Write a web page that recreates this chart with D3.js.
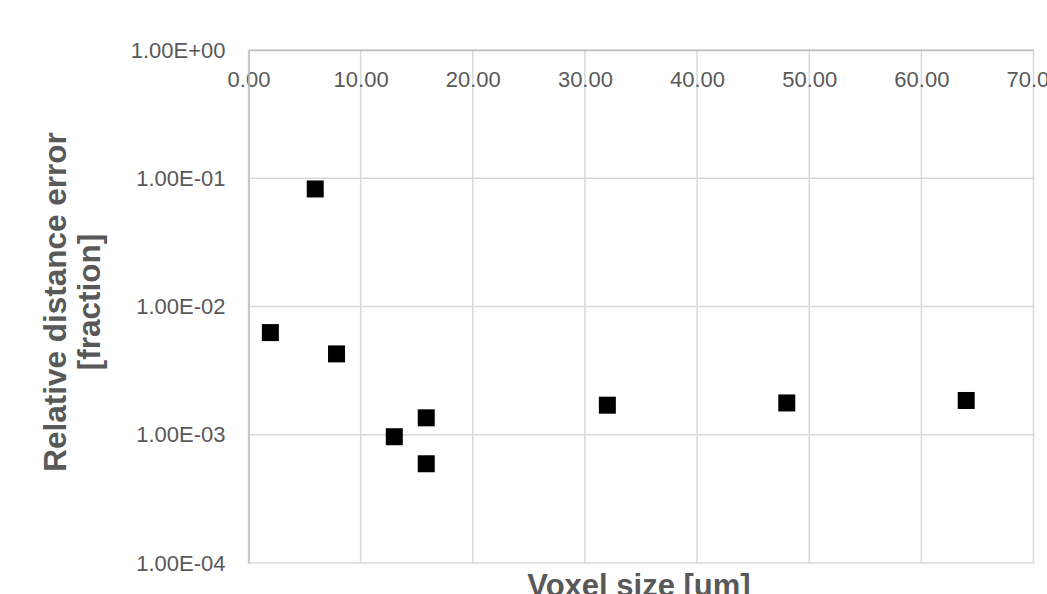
<!DOCTYPE html>
<html>
<head>
<meta charset="utf-8">
<script src="https://cdn.jsdelivr.net/npm/d3@7"></script>
<style>
  html, body { margin: 0; padding: 0; background: #ffffff; }
  svg { display: block; font-family: "Liberation Sans", Arial, sans-serif; }
</style>
</head>
<body>
<svg id="chart" width="1047" height="594"></svg>
<script>
// ---- data ----
const voxelSize = [1.95, 5.95, 7.85, 13.0, 15.85, 15.85, 32.0, 48.0, 64.0];
const relError  = [0.00626, 0.0825, 0.00427, 0.000965, 0.001355, 0.000594, 0.0017, 0.00177, 0.00185];

const xTickValues = [0, 10, 20, 30, 40, 50, 60, 70];
const xTickLabels = ["0.00", "10.00", "20.00", "30.00", "40.00", "50.00", "60.00", "70.00"];
const yTickValues = [1e-4, 1e-3, 1e-2, 1e-1, 1];
const yTickLabels = ["1.00E-04", "1.00E-03", "1.00E-02", "1.00E-01", "1.00E+00"];

const xTitle = "Voxel size [um]";
const yTitleLines = ["Relative distance error", "[fraction]"];

// ---- layout ----
const plotL = 248.5, plotR = 1033.5, plotT = 50, plotB = 563;
const svg = d3.select("#chart");

const x = d3.scaleLinear().domain([0, 70]).range([plotL, plotR]);
const y = d3.scaleLog().domain([1e-4, 1]).range([plotB, plotT]);

const gridColor = "#d9d9d9";
const textColor = "#595959";

// gridlines
svg.append("g").selectAll("line").data(xTickValues).join("line")
  .attr("x1", d => x(d)).attr("x2", d => x(d))
  .attr("y1", plotT).attr("y2", plotB)
  .attr("stroke", gridColor).attr("stroke-width", 1.5);
svg.append("g").selectAll("line").data(yTickValues).join("line")
  .attr("x1", plotL).attr("x2", plotR)
  .attr("y1", d => y(d)).attr("y2", d => y(d))
  .attr("stroke", gridColor).attr("stroke-width", 1.5);

// x axis (at top, labels below the line)
const xAxis = d3.axisBottom(x)
  .tickValues(xTickValues)
  .tickFormat((d, i) => xTickLabels[i])
  .tickSize(0).tickPadding(21.5);
const gx = svg.append("g").attr("transform", `translate(0,${plotT})`).call(xAxis);
gx.select(".domain").attr("stroke", "#bfbfbf").attr("stroke-width", 1.5);
gx.selectAll("text").attr("fill", textColor).style("font-size", "22px")
  .style("font-family", "'Liberation Sans', Arial, sans-serif");

// y axis
const yAxis = d3.axisLeft(y)
  .tickValues(yTickValues)
  .tickFormat((d, i) => yTickLabels[i])
  .tickSize(0).tickPadding(23);
const gy = svg.append("g").attr("transform", `translate(${plotL},0)`).call(yAxis);
gy.select(".domain").attr("stroke", "#bfbfbf").attr("stroke-width", 1.5);
gy.selectAll("text").attr("fill", textColor).style("font-size", "22px")
  .style("font-family", "'Liberation Sans', Arial, sans-serif");

// markers
const ms = 17;
svg.append("g").selectAll("rect").data(voxelSize).join("rect")
  .attr("x", (d, i) => x(d) - ms / 2)
  .attr("y", (d, i) => y(relError[i]) - ms / 2)
  .attr("width", ms).attr("height", ms)
  .attr("fill", "#000000");

// axis titles
svg.append("text")
  .attr("x", (plotL + plotR) / 2 - 2).attr("y", 596)
  .attr("text-anchor", "middle")
  .attr("fill", textColor)
  .style("font-size", "31px").style("font-weight", "bold")
  .text(xTitle);

const yt = svg.append("text")
  .attr("transform", "translate(0,302) rotate(-90)")
  .attr("text-anchor", "middle")
  .attr("fill", textColor)
  .style("font-size", "31.5px").style("font-weight", "bold");
yt.selectAll("tspan").data(yTitleLines).join("tspan")
  .attr("x", 0)
  .attr("y", (d, i) => i === 0 ? 66 : 100)
  .text(d => d);
</script>
</body>
</html>
